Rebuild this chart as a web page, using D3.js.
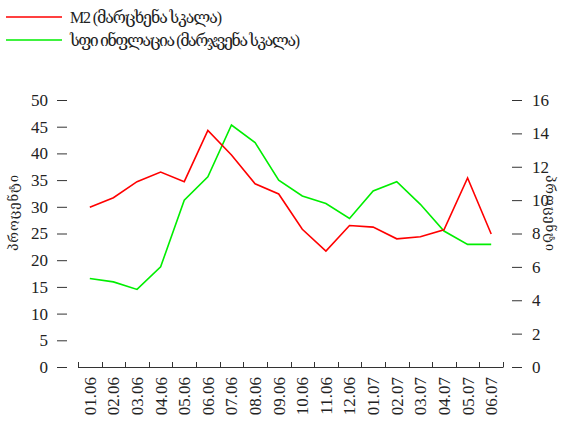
<!DOCTYPE html>
<html>
<head>
<meta charset="utf-8">
<script src="https://cdn.jsdelivr.net/npm/d3@7"></script>
<style>
  html, body { margin: 0; padding: 0; background: #fff; }
  svg text { font-family: "Liberation Serif", "Times New Roman", Tinos, "DejaVu Serif", serif; fill: #222; }
</style>
</head>
<body>
<svg id="chart" width="563" height="428"></svg>
<script>
// Months (MM.YY)
const months = ["01.06","02.06","03.06","04.06","05.06","06.06","07.06","08.06","09.06",
                "10.06","11.06","12.06","01.07","02.07","03.07","04.07","05.07","06.07"];
// M2 growth, percent (left scale)
const m2 = [29.9, 31.7, 34.7, 36.5, 34.7, 44.3, 39.7, 34.3, 32.4,
            25.8, 21.7, 26.5, 26.2, 24.0, 24.4, 25.7, 35.4, 24.9];
// CPI inflation, percent (right scale)
const cpi = [5.3, 5.1, 4.65, 6.0, 10.0, 11.4, 14.5, 13.45, 11.2,
             10.25, 9.8, 8.9, 10.55, 11.1, 9.75, 8.15, 7.35, 7.35];
const leftTicks = [0, 5, 10, 15, 20, 25, 30, 35, 40, 45, 50];
const rightTicks = [0, 2, 4, 6, 8, 10, 12, 14, 16];
const legendLabels = ["M2 (მარცხენა სკალა)", "სფი ინფლაცია (მარჯვენა სკალა)"];
const axisTitle = "პროცენტი";

const FONT = '"Liberation Serif", "Times New Roman", Tinos, serif';
const svg = d3.select("#chart");
const plot = { left: 78, right: 503, top: 100, bottom: 367 };

const x = d3.scaleBand().domain(months).range([plot.left, plot.right]);
const yL = d3.scaleLinear().domain([0, 50]).range([plot.bottom, plot.top]);
const yR = d3.scaleLinear().domain([0, 16]).range([plot.bottom, plot.top]);

// Left axis: detached short dashes with labels
const gl = svg.append("g");
gl.selectAll("line").data(leftTicks).join("line")
  .attr("x1", 57).attr("x2", 67)
  .attr("y1", d => yL(d) + 0.5).attr("y2", d => yL(d) + 0.5)
  .attr("stroke", "#333").attr("stroke-width", 1);
gl.selectAll("text").data(leftTicks).join("text")
  .attr("x", 48).attr("y", d => yL(d)).attr("dy", "0.35em")
  .attr("text-anchor", "end").attr("font-size", 17).attr("font-family", FONT)
  .text(d => d);

// Right axis
const gr = svg.append("g");
gr.selectAll("line").data(rightTicks).join("line")
  .attr("x1", 512).attr("x2", 522)
  .attr("y1", d => yR(d) + 0.5).attr("y2", d => yR(d) + 0.5)
  .attr("stroke", "#333").attr("stroke-width", 1);
gr.selectAll("text").data(rightTicks).join("text")
  .attr("x", 532).attr("y", d => yR(d)).attr("dy", "0.35em")
  .attr("text-anchor", "start").attr("font-size", 17).attr("font-family", FONT)
  .text(d => d);

// Bottom axis: baseline with upward ticks at band edges
const gb = svg.append("g");
gb.append("line")
  .attr("x1", plot.left).attr("x2", plot.right)
  .attr("y1", plot.bottom + 0.5).attr("y2", plot.bottom + 0.5)
  .attr("stroke", "#333");
const edges = months.map(m => x(m)).concat([x.range()[1]]);
gb.selectAll("line.tk").data(edges).join("line").attr("class", "tk")
  .attr("x1", d => Math.round(d) + 0.5).attr("x2", d => Math.round(d) + 0.5)
  .attr("y1", plot.bottom + 0.5).attr("y2", plot.bottom - 5)
  .attr("stroke", "#333");
gb.selectAll("text").data(months).join("text")
  .attr("transform", d => `translate(${x(d) + x.bandwidth() / 2},377) rotate(-90)`)
  .attr("text-anchor", "end").attr("dy", "0.35em")
  .attr("font-size", 17).attr("font-family", FONT)
  .text(d => d);

// Axis titles
svg.append("text")
  .attr("transform", "translate(13,213) rotate(-90)")
  .attr("text-anchor", "middle").attr("dy", "0.35em")
  .attr("font-size", 13).attr("textLength", 76)
  .text(axisTitle);
svg.append("text")
  .attr("transform", "translate(551,213) rotate(90)")
  .attr("text-anchor", "middle").attr("dy", "0.35em")
  .attr("font-size", 13).attr("textLength", 76)
  .text(axisTitle);

// Series lines
const cx = d => x(d) + x.bandwidth() / 2;
const lineL = d3.line().x((d, i) => cx(months[i])).y(d => yL(d));
const lineR = d3.line().x((d, i) => cx(months[i])).y(d => yR(d));
svg.append("path").datum(cpi).attr("d", lineR)
  .attr("fill", "none").attr("stroke", "#00ee00").attr("stroke-width", 1.6);
svg.append("path").datum(m2).attr("d", lineL)
  .attr("fill", "none").attr("stroke", "#ff0000").attr("stroke-width", 1.6);

// Legend
const legend = [
  { label: legendLabels[0], color: "#ff0000", y: 17, w: 152 },
  { label: legendLabels[1], color: "#00ee00", y: 40, w: 230 }
];
const lg = svg.append("g");
legend.forEach(l => {
  lg.append("line").attr("x1", 6).attr("x2", 62).attr("y1", l.y).attr("y2", l.y)
    .attr("stroke", l.color).attr("stroke-width", 1.6);
  lg.append("text").attr("x", 70).attr("y", l.y).attr("dy", "0.35em")
    .attr("font-size", 16).attr("textLength", l.w)
    .text(l.label);
});
</script>
</body>
</html>
